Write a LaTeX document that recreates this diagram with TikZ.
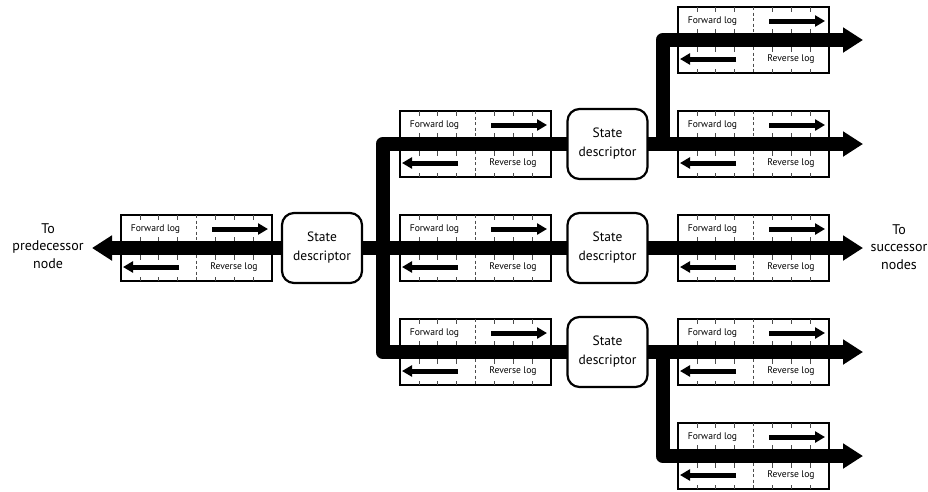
\documentclass[tikz,border=0pt]{standalone}
\usepackage{fontspec}
\setmainfont{PT Sans}
\usetikzlibrary{arrows.meta}
\tikzset{
 logbox/.style={draw, line width=2pt, fill=white, minimum width=151pt, minimum height=66pt, inner sep=0pt},
 sdbox/.style={draw, line width=2.2pt, fill=white, rounded corners=12pt, minimum width=80pt, minimum height=70pt, inner sep=0pt, align=center, font=\fontsize{13.5}{19}\selectfont},
 band/.style={line width=14pt, line cap=butt, line join=round},
 bandarrow/.style={band, -{Triangle[length=20pt,width=24pt]}},
 tickmark/.style={line width=0.7pt, black!70},
 divider/.style={line width=0.7pt, black!70, dash pattern=on 3pt off 2.5pt},
 logtext/.style={font=\fontsize{9.6}{11}\selectfont, inner sep=0pt},
 logarrow/.style={line width=5pt, -{Triangle[length=10pt,width=11pt]}},
 sidetext/.style={align=center, font=\fontsize{14}{17.5}\selectfont},
}
\newcommand\LogBox[2]{%
 \node[logbox] (#1) at (#2) {};
 \begin{scope}[shift={(#1.center)}]
  \foreach \i in {1,2,3,5,6,7}{
   \draw[tickmark] ({-75.5+18.875*\i},-33) -- ++(0,4.5);
   \draw[tickmark] ({-75.5+18.875*\i},-7) -- ++(0,-4.5);
   \draw[tickmark] ({-75.5+18.875*\i},7) -- ++(0,4.5);
   \draw[tickmark] ({-75.5+18.875*\i},33) -- ++(0,-4.5);
  }
  \draw[divider] (0,-33) -- (0,-7);
  \draw[divider] (0,7) -- (0,33);
  \node[logtext] (#1-f) at (-41,-19) {Forward log};
  \node[logtext] (#1-r) at (37.5,19) {Reverse log};
  \draw[logarrow] (15.5,-19) -- (71.5,-19);
  \draw[logarrow] (-17.5,19) -- (-73.5,19);
 \end{scope}
}
\begin{document}
\begin{tikzpicture}[x=1pt,y=-1pt]
\useasboundingbox (0,0) rectangle (928,491);
% log boxes
\LogBox{L1}{196.5,248}
\LogBox{L2a}{475.5,144}
\LogBox{L2b}{475.5,248}
\LogBox{L2c}{475.5,352}
\LogBox{L3a}{753.5,40}
\LogBox{L3b}{753.5,144}
\LogBox{L3c}{753.5,248}
\LogBox{L3d}{753.5,352}
\LogBox{L3e}{753.5,456}
% coordinates
\coordinate (tipL) at (92,248);
\coordinate (j1a) at (382.5,144);
\coordinate (j1c) at (382.5,352);
\coordinate (j2a) at (662.5,144);
\coordinate (j2aa) at (662.5,40);
\coordinate (j2c) at (662.5,352);
\coordinate (j2ce) at (662.5,456);
\coordinate (t3a) at (863,40);
\coordinate (t3b) at (863,144);
\coordinate (t3c) at (863,248);
\coordinate (t3d) at (863,352);
\coordinate (t3e) at (863,456);
% state descriptor positions (nodes drawn later)
\path (322,248) coordinate (psd1) (607.5,144) coordinate (psd2a) (607.5,248) coordinate (psd2b) (607.5,352) coordinate (psd2c);
% bands
\draw[bandarrow] (psd1) -- (tipL);
\draw[band] (psd1) -- (psd2b);
\draw[band] (psd2a) -- (j1a) -- (j1c) -- (psd2c);
\draw[bandarrow] (psd2a) -- (t3b);
\draw[bandarrow] (j2a) -- (j2aa) -- (t3a);
\draw[bandarrow] (psd2b) -- (t3c);
\draw[bandarrow] (psd2c) -- (t3d);
\draw[bandarrow] (j2c) -- (j2ce) -- (t3e);
% state descriptors
\node[sdbox] (sd1) at (psd1) {State\\descriptor};
\node[sdbox] (sd2a) at (psd2a) {State\\descriptor};
\node[sdbox] (sd2b) at (psd2b) {State\\descriptor};
\node[sdbox] (sd2c) at (psd2c) {State\\descriptor};
% side labels
\node[sidetext] (pred) at (48,246) {To\\predecessor\\node};
\node[sidetext] (succ) at (899,247) {To\\successor\\nodes};
\end{tikzpicture}
\end{document}
